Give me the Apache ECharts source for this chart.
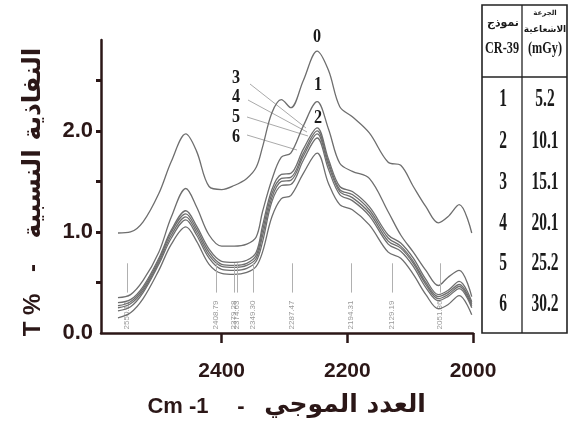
<!DOCTYPE html>
<html>
<head>
<meta charset="utf-8">
<script src="https://cdn.jsdelivr.net/npm/echarts@6/dist/echarts.min.js"></script>
<style>
  html, body { margin: 0; padding: 0; background: #fff; }
  #chart { width: 569px; height: 438px; }
</style>
</head>
<body>
<div id="chart"></div>
<script>
// wavenumber grid (cm-1) and transmittance
const wavenumbers = [2565, 2545, 2525, 2500, 2480, 2457, 2440, 2420, 2400, 2380, 2360, 2345, 2335, 2320, 2305, 2290, 2270, 2248, 2230, 2212, 2192, 2165, 2135, 2115, 2095, 2075, 2055, 2040, 2022, 2002]
const curve0 = [0.99, 1.00, 1.10, 1.38, 1.70, 1.97, 1.80, 1.45, 1.42, 1.46, 1.53, 1.64, 1.84, 2.18, 2.31, 2.23, 2.50, 2.79, 2.60, 2.24, 2.14, 1.98, 1.69, 1.66, 1.45, 1.25, 1.09, 1.15, 1.27, 0.99]
const curve1 = [0.35, 0.38, 0.52, 0.80, 1.15, 1.43, 1.25, 0.97, 0.86, 0.86, 0.88, 0.95, 1.20, 1.52, 1.74, 1.78, 2.05, 2.29, 2.02, 1.68, 1.60, 1.53, 1.20, 0.97, 0.80, 0.62, 0.47, 0.55, 0.62, 0.36]
const curve2 = [0.30, 0.33, 0.46, 0.74, 1.02, 1.21, 1.06, 0.83, 0.71, 0.70, 0.72, 0.80, 1.06, 1.42, 1.57, 1.58, 1.82, 2.03, 1.72, 1.45, 1.40, 1.25, 0.97, 0.89, 0.74, 0.53, 0.38, 0.42, 0.51, 0.31]
const curve3 = [0.27, 0.31, 0.44, 0.72, 1.00, 1.18, 1.03, 0.80, 0.68, 0.67, 0.69, 0.77, 1.01, 1.38, 1.53, 1.54, 1.78, 2.00, 1.69, 1.42, 1.37, 1.22, 0.94, 0.86, 0.71, 0.50, 0.36, 0.40, 0.48, 0.29]
const curve4 = [0.25, 0.29, 0.42, 0.70, 0.97, 1.15, 1.00, 0.77, 0.66, 0.65, 0.67, 0.74, 0.96, 1.34, 1.50, 1.51, 1.75, 1.97, 1.66, 1.40, 1.34, 1.19, 0.91, 0.84, 0.69, 0.48, 0.34, 0.38, 0.46, 0.27]
const curve5 = [0.22, 0.26, 0.40, 0.68, 0.94, 1.12, 0.97, 0.74, 0.63, 0.62, 0.64, 0.71, 0.90, 1.30, 1.46, 1.47, 1.71, 1.93, 1.62, 1.37, 1.31, 1.16, 0.88, 0.81, 0.66, 0.45, 0.32, 0.36, 0.44, 0.25]
const curve6 = [0.15, 0.20, 0.34, 0.62, 0.88, 1.05, 0.91, 0.68, 0.59, 0.58, 0.60, 0.66, 0.80, 1.15, 1.33, 1.36, 1.58, 1.78, 1.48, 1.27, 1.22, 1.07, 0.80, 0.74, 0.58, 0.38, 0.24, 0.28, 0.37, 0.18]
const curves = [curve0, curve1, curve2, curve3, curve4, curve5, curve6]

const peakPositions = [2550.11, 2408.79, 2379.28, 2374.63, 2349.30, 2287.47, 2194.31, 2129.19, 2051.86]

const xTicks = [2000, 2200, 2400]
const yTicks = [0.5, 1, 1.5, 2, 2.5]
const yLabels = [0, 1, 2]

const sampleIds = ['1', '2', '3', '4', '5', '6']
const doses = ['5.2', '10.1', '15.1', '20.1', '25.2', '30.2']

const axisColor = '#2b1717'
const serif = '"Liberation Serif", "DejaVu Serif", serif'
const sans = '"Liberation Sans", Arial, sans-serif'
const arabic = '"DejaVu Sans", sans-serif'

const lineSeries = curves.map((c, i) => ({
  type: 'line',
  name: String(i),
  data: wavenumbers.map((w, j) => [w, c[j]]),
  showSymbol: false,
  smooth: 0.35,
  lineStyle: { color: '#6e6e6e', width: 1.3 },
  z: 3
}))

const peakSeries = {
  type: 'scatter',
  data: peakPositions.map(p => [p, 0.03]),
  symbolSize: 1,
  itemStyle: { color: 'transparent' },
  silent: true,
  label: {
    show: true,
    formatter: p => p.value[0].toFixed(2),
    rotate: 90,
    position: [0, 0],
    align: 'left',
    verticalAlign: 'middle',
    fontSize: 8,
    fontFamily: sans,
    color: '#808080'
  },
  markLine: {
    silent: true,
    symbol: ['none', 'none'],
    label: { show: false },
    lineStyle: { color: '#b0b0b0', width: 1, type: 'solid' },
    data: peakPositions.map(p => [{ coord: [p, 0.69] }, { coord: [p, 0.40] }])
  }
}

// table + annotations
const tableText = (text, x, y, size, sx) => ({
  type: 'text', x: x, y: y, scaleX: sx || 0.7,
  style: { text: text, font: 'bold ' + size + 'px ' + serif, fill: '#1a1a1a', align: 'center', verticalAlign: 'middle' }
})
const gline = (x1, y1, x2, y2, color, w) => ({
  type: 'line', shape: { x1: x1, y1: y1, x2: x2, y2: y2 },
  style: { stroke: color, lineWidth: w }
})

const rowY = [100, 142, 183, 224, 264, 305]
const graphics = [
  { type: 'rect', shape: { x: 482, y: 5, width: 85, height: 328 }, style: { fill: 'none', stroke: '#222', lineWidth: 1.6 } },
  gline(522, 5, 522, 333, '#222', 1.3),
  gline(482, 77, 567, 77, '#222', 1.3),
  { type: 'text', x: 503, y: 23, style: { text: 'نموذج', font: 'bold 11px ' + arabic, fill: '#1a1a1a', align: 'center', verticalAlign: 'middle' } },
  tableText('CR-39', 502, 49, 17, 0.72),
  { type: 'text', x: 545, y: 13, style: { text: 'الجرعة', font: 'bold 7px ' + arabic, fill: '#1a1a1a', align: 'center', verticalAlign: 'middle' } },
  { type: 'text', x: 545, y: 30, style: { text: 'الاشعاعية', font: 'bold 9px ' + arabic, fill: '#1a1a1a', align: 'center', verticalAlign: 'middle' } },
  tableText('(mGy)', 545, 49, 17, 0.72),
  // axis names
  { type: 'text', x: 178, y: 407, style: { text: 'Cm -1', font: 'bold 22px ' + sans, fill: axisColor, align: 'center', verticalAlign: 'middle' } },
  { type: 'text', x: 241, y: 407, style: { text: '-', font: 'bold 22px ' + sans, fill: axisColor, align: 'center', verticalAlign: 'middle' } },
  { type: 'text', x: 345, y: 405, style: { text: 'العدد الموجي', font: 'bold 25px ' + arabic, fill: axisColor, align: 'center', verticalAlign: 'middle' } },
  { type: 'text', x: 33, y: 315, rotation: Math.PI / 2, style: { text: 'T %', font: 'bold 24px ' + sans, fill: axisColor, align: 'center', verticalAlign: 'middle' } },
  { type: 'text', x: 33, y: 268, rotation: Math.PI / 2, style: { text: '-', font: 'bold 24px ' + sans, fill: axisColor, align: 'center', verticalAlign: 'middle' } },
  { type: 'text', x: 33, y: 143, rotation: Math.PI / 2, style: { text: 'النفاذية النسبية', font: 'bold 25px ' + arabic, fill: axisColor, align: 'center', verticalAlign: 'middle' } },
  // curve numbers and leader lines
  gline(250, 84, 306, 128, '#aaa', 1),
  gline(248, 100, 307, 132, '#aaa', 1),
  gline(247, 117, 308, 136, '#aaa', 1),
  gline(247, 135, 297, 150, '#aaa', 1),
  tableText('0', 317, 37, 19, 0.85),
  tableText('1', 318, 85, 19, 0.85),
  tableText('2', 318, 118, 19, 0.85),
  tableText('3', 236, 78, 19, 0.85),
  tableText('4', 236, 97, 19, 0.85),
  tableText('5', 236, 117, 19, 0.85),
  tableText('6', 236, 137, 19, 0.85)
]
sampleIds.forEach((s, i) => {
  graphics.push(tableText(s, 503, rowY[i], 25, 0.62))
  graphics.push(tableText(doses[i], 545, rowY[i], 25, 0.62))
})

const chart = echarts.init(document.getElementById('chart'), null, { renderer: 'canvas' })
chart.setOption({
  animation: false,
  backgroundColor: '#fff',
  grid: { left: 101, right: 96, top: 40, bottom: 105 },
  xAxis: {
    type: 'value',
    min: 2000,
    max: 2592,
    inverse: true,
    axisLine: { lineStyle: { color: axisColor, width: 2.5 } },
    axisTick: { customValues: xTicks, length: 10, lineStyle: { color: axisColor, width: 2.5 } },
    axisLabel: { customValues: xTicks, formatter: v => String(v), margin: 28, fontSize: 21, fontWeight: 'bold', fontFamily: sans, color: axisColor },
    splitLine: { show: false }
  },
  yAxis: {
    type: 'value',
    min: 0,
    max: 2.9,
    axisLine: { show: true, lineStyle: { color: axisColor, width: 2.5 } },
    axisTick: { show: true, customValues: yTicks, length: 5, lineStyle: { color: axisColor, width: 3 } },
    axisLabel: { customValues: yLabels, formatter: v => v.toFixed(1), margin: 8, fontSize: 22, fontWeight: 'bold', fontFamily: sans, color: axisColor },
    splitLine: { show: false }
  },
  series: lineSeries.concat([peakSeries]),
  graphic: graphics
})
</script>
</body>
</html>
